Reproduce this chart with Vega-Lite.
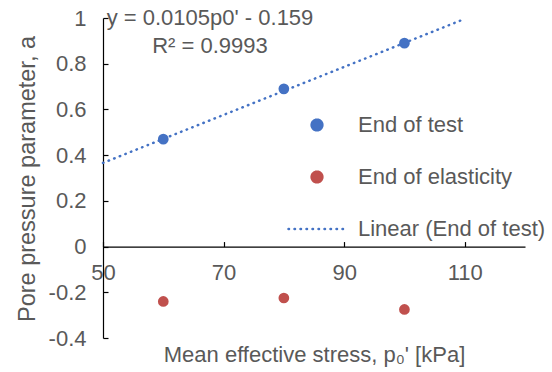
{
  "$schema": "https://vega.github.io/schema/vega-lite/v6.json",
  "autosize": "none",
  "width": 422,
  "height": 320,
  "padding": {"left": 103, "top": 18, "right": 27, "bottom": 34},
  "background": "white",
  "config": {
    "view": {"stroke": null},
    "font": "Liberation Sans",
    "axis": {
      "grid": false,
      "domainColor": "#000000",
      "domainWidth": 1.2,
      "tickColor": "#000000",
      "tickWidth": 1.2,
      "tickSize": -5,
      "labelFlush": false,
      "labelOverlap": false,
      "labelFont": "Liberation Sans",
      "labelFontSize": 22,
      "labelColor": "#595959",
      "titleFont": "Liberation Sans",
      "titleFontSize": 22,
      "titleFontWeight": "normal",
      "titleColor": "#595959"
    },
    "legend": {
      "labelFont": "Liberation Sans",
      "labelFontSize": 22,
      "labelColor": "#595959",
      "labelLimit": 0
    }
  },
  "datasets": {
    "points": [
      {"p": 60, "a": 0.47, "series": "End of test"},
      {"p": 80, "a": 0.69, "series": "End of test"},
      {"p": 100, "a": 0.89, "series": "End of test"},
      {"p": 60, "a": -0.24, "series": "End of elasticity"},
      {"p": 80, "a": -0.225, "series": "End of elasticity"},
      {"p": 100, "a": -0.275, "series": "End of elasticity"}
    ],
    "trend": [
      {"p": 50, "a": 0.366, "series": "Linear (End of test)"},
      {"p": 110, "a": 0.996, "series": "Linear (End of test)"}
    ],
    "note": [
      {"label": "y = 0.0105p0' - 0.159\nR² = 0.9993"}
    ]
  },
  "layer": [
    {
      "data": {"name": "trend"},
      "mark": {"type": "line", "strokeWidth": 2.5, "strokeDash": [0.5, 5.5], "strokeCap": "round", "clip": false},
      "encoding": {
        "x": {"field": "p", "type": "quantitative"},
        "y": {"field": "a", "type": "quantitative"},
        "color": {
          "field": "series",
          "type": "nominal",
          "scale": {
            "domain": ["End of test", "End of elasticity", "Linear (End of test)"],
            "range": ["#4472C4", "#C0504D", "#4472C4"]
          },
          "legend": {
            "title": null,
            "orient": "none",
            "legendX": 203,
            "legendY": 96,
            "symbolSize": 3249,
            "labelOffset": 30,
            "rowPadding": 30,
            "padding": 0,
            "labelLimit": 0,
            "encode": {
              "symbols": {
                "update": {
                  "shape": {"signal": "datum.value === 'Linear (End of test)' ? 'stroke' : 'circle'"},
                  "size": {"signal": "datum.value === 'Linear (End of test)' ? 3249 : 115"},
                  "fill": {"signal": "datum.value === 'Linear (End of test)' ? 'transparent' : scale('color', datum.value)"},
                  "stroke": {"signal": "datum.value === 'Linear (End of test)' ? '#4472C4' : 'transparent'"},
                  "strokeWidth": {"value": 2.5},
                  "strokeCap": {"value": "round"},
                  "strokeDash": {"signal": "datum.value === 'Linear (End of test)' ? [0.5, 5.5] : [1, 0]"},
                  "opacity": {"value": 1}
                }
              }
            }
          }
        }
      }
    },
    {
      "data": {"name": "points"},
      "mark": {"type": "point", "filled": true, "size": 115, "opacity": 1},
      "encoding": {
        "x": {
          "field": "p",
          "type": "quantitative",
          "scale": {"domain": [50, 120], "nice": false, "zero": false},
          "axis": {
            "values": [50, 70, 90, 110],
            "offset": -91.43,
            "labelPadding": 21,
            "title": "Mean effective stress, p₀' [kPa]",
            "titleY": 115,
            "titleBaseline": "alphabetic"
          }
        },
        "y": {
          "field": "a",
          "type": "quantitative",
          "scale": {"domain": [-0.4, 1], "nice": false, "zero": false},
          "axis": {
            "values": [-0.4, -0.2, 0, 0.2, 0.4, 0.6, 0.8, 1],
            "labelExpr": "'' + datum.value",
            "labelPadding": 22,
            "title": "Pore pressure parameter, a",
            "titleFontSize": 23.5,
            "titleX": -76,
            "titleY": 160.5,
            "titleAlign": "center",
            "titleBaseline": "middle",
            "titleAngle": -90
          }
        },
        "color": {
          "field": "series",
          "type": "nominal",
          "scale": {
            "domain": ["End of test", "End of elasticity", "Linear (End of test)"],
            "range": ["#4472C4", "#C0504D", "#4472C4"]
          },
          "legend": {
            "title": null,
            "orient": "none",
            "legendX": 203,
            "legendY": 96,
            "symbolSize": 3249,
            "labelOffset": 30,
            "rowPadding": 30,
            "padding": 0,
            "labelLimit": 0,
            "encode": {
              "symbols": {
                "update": {
                  "shape": {"signal": "datum.value === 'Linear (End of test)' ? 'stroke' : 'circle'"},
                  "size": {"signal": "datum.value === 'Linear (End of test)' ? 3249 : 115"},
                  "fill": {"signal": "datum.value === 'Linear (End of test)' ? 'transparent' : scale('color', datum.value)"},
                  "stroke": {"signal": "datum.value === 'Linear (End of test)' ? '#4472C4' : 'transparent'"},
                  "strokeWidth": {"value": 2.5},
                  "strokeCap": {"value": "round"},
                  "strokeDash": {"signal": "datum.value === 'Linear (End of test)' ? [0.5, 5.5] : [1, 0]"},
                  "opacity": {"value": 1}
                }
              }
            }
          }
        }
      }
    },
    {
      "data": {"name": "note"},
      "mark": {
        "type": "text",
        "font": "Liberation Sans",
        "fontSize": 22,
        "color": "#595959",
        "align": "center",
        "baseline": "middle",
        "lineBreak": "\n",
        "lineHeight": 28
      },
      "encoding": {
        "x": {"datum": 67.75, "type": "quantitative"},
        "y": {"datum": 1.0, "type": "quantitative"},
        "text": {"field": "label", "type": "nominal"}
      }
    }
  ]
}
